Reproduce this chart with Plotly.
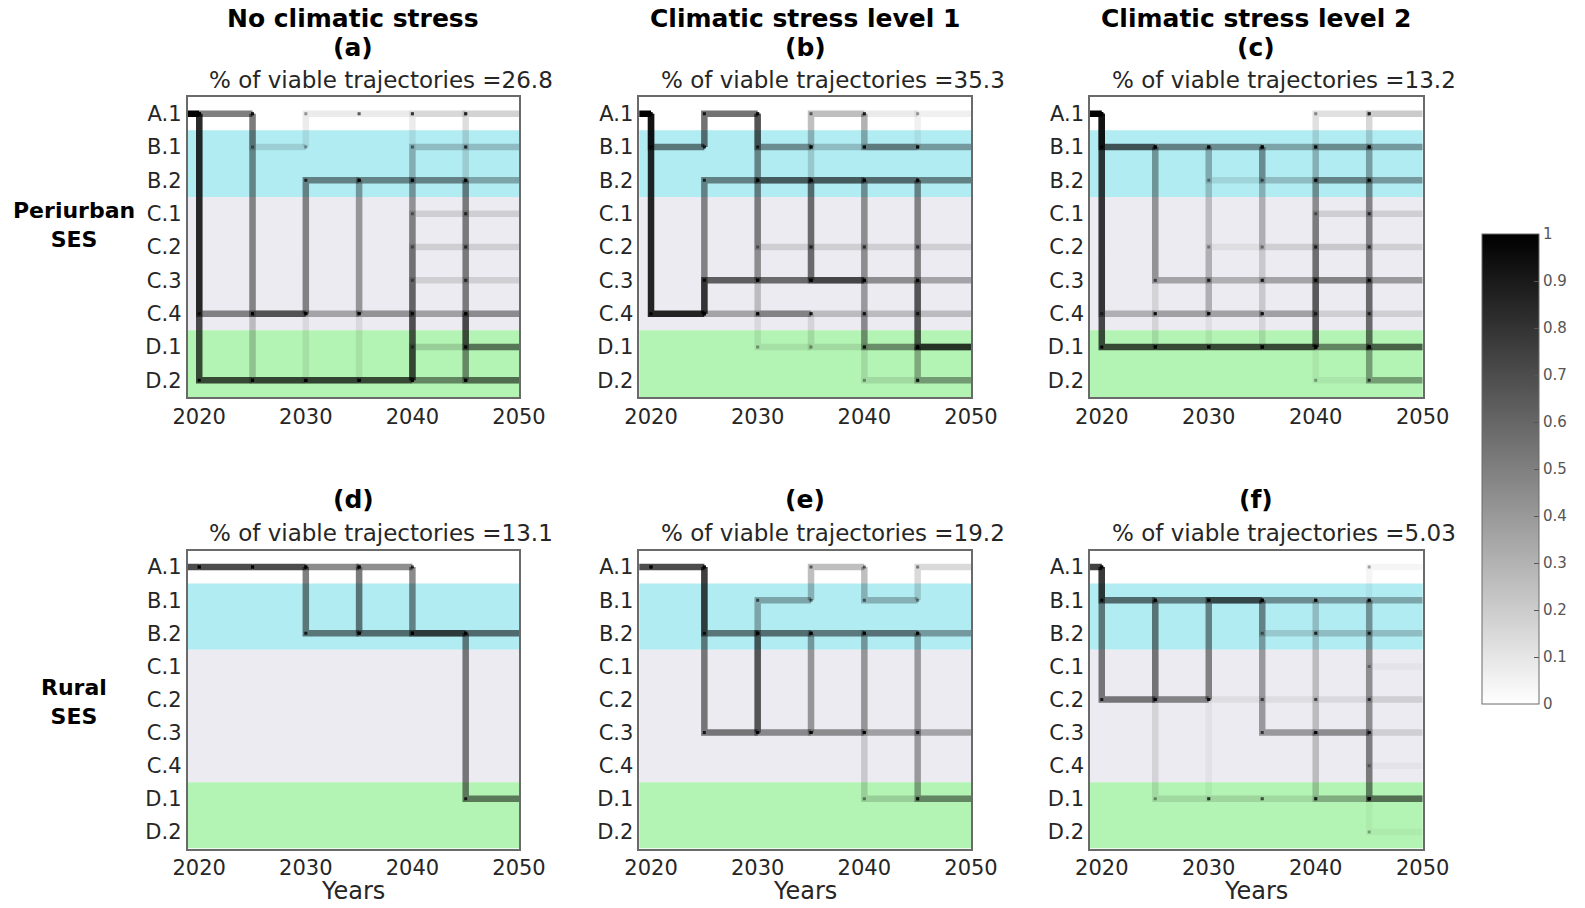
import plotly.graph_objects as go

W, H = 1585, 908

# ---- data -------------------------------------------------------------
STATES = ["A.1", "B.1", "B.2", "C.1", "C.2", "C.3", "C.4", "D.1", "D.2"]
YEAR_TICKS = [2020, 2030, 2040, 2050]
STEP = 5  # years between two decisions

COLUMN_TITLES = ["No climatic stress", "Climatic stress level 1", "Climatic stress level 2"]
ROW_TITLES = ["Periurban<br>SES", "Rural<br>SES"]
PANEL_LETTERS = ["(a)", "(b)", "(c)", "(d)", "(e)", "(f)"]
VIABLE_PCT = ["26.8", "35.3", "13.2", "13.1", "19.2", "5.03"]
CBAR_TICKS = [0, 0.1, 0.2, 0.3, 0.4, 0.5, 0.6, 0.7, 0.8, 0.9, 1]

# transitions: (decision year, state before, state after, share of trajectories)
edges_a = [
    (2015, "A.1", "A.1", 1.0),
    (2020, "A.1", "A.1", 0.5), (2020, "A.1", "C.4", 0.45), (2020, "A.1", "D.2", 0.7),
    (2025, "A.1", "B.1", 0.12), (2025, "A.1", "C.4", 0.3), (2025, "A.1", "D.2", 0.2),
    (2025, "C.4", "C.4", 0.5), (2025, "D.2", "D.2", 0.65),
    (2030, "B.1", "A.1", 0.08), (2030, "C.4", "B.2", 0.45), (2030, "C.4", "C.4", 0.3),
    (2030, "C.4", "D.2", 0.08), (2030, "D.2", "D.2", 0.7),
    (2035, "A.1", "A.1", 0.08), (2035, "B.2", "B.2", 0.3), (2035, "B.2", "C.4", 0.2),
    (2035, "C.4", "B.2", 0.2), (2035, "C.4", "C.4", 0.15), (2035, "D.2", "D.2", 0.7),
    (2035, "D.2", "C.4", 0.08),
    (2040, "A.1", "A.1", 0.08), (2040, "B.2", "B.2", 0.35), (2040, "C.4", "C.4", 0.15),
    (2040, "D.2", "A.1", 0.08), (2040, "D.2", "B.1", 0.2), (2040, "D.2", "B.2", 0.15),
    (2040, "D.2", "C.1", 0.12), (2040, "D.2", "C.2", 0.12), (2040, "D.2", "C.3", 0.12),
    (2040, "D.2", "C.4", 0.2), (2040, "D.2", "D.1", 0.15), (2040, "D.2", "D.2", 0.45),
    (2045, "A.1", "A.1", 0.04), (2045, "B.1", "B.1", 0.2), (2045, "B.2", "B.2", 0.3),
    (2045, "B.2", "A.1", 0.08), (2045, "B.2", "D.1", 0.45), (2045, "C.1", "C.1", 0.12),
    (2045, "C.2", "C.2", 0.12), (2045, "C.3", "C.3", 0.12), (2045, "C.4", "C.4", 0.25),
    (2045, "C.4", "D.2", 0.25), (2045, "D.1", "D.1", 0.12), (2045, "D.2", "D.2", 0.4),
    (2045, "D.2", "A.1", 0.06), (2045, "D.2", "C.4", 0.2),
]

edges_b = [
    (2015, "A.1", "A.1", 1.0),
    (2020, "A.1", "B.1", 0.5), (2020, "A.1", "C.4", 0.85),
    (2025, "B.1", "A.1", 0.55), (2025, "C.4", "B.2", 0.45), (2025, "C.4", "C.3", 0.6),
    (2025, "C.4", "C.4", 0.3),
    (2030, "A.1", "B.1", 0.4), (2030, "A.1", "B.2", 0.3), (2030, "A.1", "C.4", 0.2),
    (2030, "B.2", "B.2", 0.25), (2030, "B.2", "C.2", 0.12), (2030, "C.3", "B.2", 0.25),
    (2030, "C.3", "C.3", 0.55), (2030, "C.4", "C.4", 0.3), (2030, "C.4", "D.1", 0.08),
    (2035, "B.1", "A.1", 0.25), (2035, "B.1", "B.1", 0.2), (2035, "B.1", "B.2", 0.15),
    (2035, "B.2", "B.2", 0.35), (2035, "B.2", "C.3", 0.35), (2035, "C.2", "C.2", 0.12),
    (2035, "C.3", "B.2", 0.3), (2035, "C.3", "C.3", 0.55), (2035, "C.4", "C.4", 0.2),
    (2035, "C.4", "D.1", 0.1),
    (2040, "A.1", "B.1", 0.3), (2040, "A.1", "A.1", 0.08), (2040, "B.1", "B.1", 0.25),
    (2040, "B.2", "B.2", 0.4), (2040, "B.2", "C.3", 0.2), (2040, "C.2", "C.2", 0.12),
    (2040, "C.3", "B.2", 0.25), (2040, "C.3", "C.3", 0.25), (2040, "C.3", "D.1", 0.35),
    (2040, "C.4", "C.4", 0.2), (2040, "C.4", "D.2", 0.1), (2040, "D.1", "D.1", 0.1),
    (2045, "B.1", "A.1", 0.06), (2045, "B.1", "B.1", 0.35), (2045, "B.2", "B.2", 0.45),
    (2045, "B.2", "D.1", 0.45), (2045, "C.2", "C.2", 0.12), (2045, "C.3", "C.3", 0.3),
    (2045, "C.3", "D.1", 0.35), (2045, "C.4", "C.4", 0.2), (2045, "D.1", "D.1", 0.4),
    (2045, "D.1", "D.2", 0.3), (2045, "D.2", "D.2", 0.08),
]

edges_c = [
    (2015, "A.1", "A.1", 1.0),
    (2020, "A.1", "B.1", 0.65), (2020, "A.1", "C.4", 0.25), (2020, "A.1", "D.1", 0.7),
    (2025, "B.1", "B.1", 0.45), (2025, "B.1", "C.3", 0.3), (2025, "B.1", "C.4", 0.1),
    (2025, "C.4", "C.4", 0.15), (2025, "D.1", "C.4", 0.1), (2025, "D.1", "D.1", 0.7),
    (2030, "B.1", "B.1", 0.4), (2030, "B.1", "B.2", 0.1), (2030, "B.1", "C.4", 0.2),
    (2030, "C.3", "C.3", 0.25), (2030, "C.4", "C.2", 0.06), (2030, "C.4", "C.4", 0.08),
    (2030, "D.1", "C.4", 0.06), (2030, "D.1", "D.1", 0.7),
    (2035, "B.1", "B.1", 0.3), (2035, "B.1", "B.2", 0.2), (2035, "B.1", "C.2", 0.12),
    (2035, "B.1", "C.4", 0.15), (2035, "C.3", "C.3", 0.3), (2035, "C.4", "C.4", 0.1),
    (2035, "D.1", "C.4", 0.1), (2035, "D.1", "D.1", 0.7),
    (2040, "B.1", "B.1", 0.3), (2040, "B.2", "B.2", 0.3), (2040, "C.2", "C.2", 0.05),
    (2040, "C.3", "C.3", 0.3), (2040, "C.4", "C.4", 0.12), (2040, "D.1", "A.1", 0.12),
    (2040, "D.1", "B.1", 0.15), (2040, "D.1", "B.2", 0.2), (2040, "D.1", "C.1", 0.12),
    (2040, "D.1", "C.2", 0.1), (2040, "D.1", "C.3", 0.2), (2040, "D.1", "D.1", 0.45),
    (2040, "D.1", "D.2", 0.05),
    (2045, "A.1", "A.1", 0.05), (2045, "B.1", "A.1", 0.06), (2045, "B.1", "B.1", 0.35),
    (2045, "B.1", "D.1", 0.25), (2045, "B.2", "B.2", 0.35), (2045, "B.2", "D.1", 0.15),
    (2045, "C.1", "C.1", 0.12), (2045, "C.2", "C.2", 0.12), (2045, "C.3", "C.3", 0.35),
    (2045, "C.3", "D.1", 0.2), (2045, "C.4", "C.4", 0.12), (2045, "D.1", "A.1", 0.1),
    (2045, "D.1", "D.1", 0.2), (2045, "D.1", "D.2", 0.35),
]

edges_d = [
    (2015, "A.1", "A.1", 0.7),
    (2020, "A.1", "A.1", 0.7),
    (2025, "A.1", "A.1", 0.7),
    (2030, "A.1", "A.1", 0.45), (2030, "A.1", "B.2", 0.5),
    (2035, "A.1", "A.1", 0.2), (2035, "A.1", "B.2", 0.3), (2035, "B.2", "A.1", 0.3),
    (2035, "B.2", "B.2", 0.35),
    (2040, "A.1", "B.2", 0.45), (2040, "B.2", "B.2", 0.55),
    (2045, "B.2", "B.2", 0.55), (2045, "B.2", "D.1", 0.5),
]

edges_e = [
    (2015, "A.1", "A.1", 0.7),
    (2020, "A.1", "A.1", 0.7),
    (2025, "A.1", "B.2", 0.5), (2025, "A.1", "C.3", 0.5),
    (2030, "B.2", "B.1", 0.3), (2030, "B.2", "B.2", 0.15), (2030, "B.2", "C.3", 0.35),
    (2030, "C.3", "B.2", 0.45), (2030, "C.3", "C.3", 0.1),
    (2035, "B.1", "A.1", 0.25), (2035, "B.2", "B.2", 0.35), (2035, "B.2", "C.3", 0.2),
    (2035, "C.3", "B.2", 0.2), (2035, "C.3", "C.3", 0.25),
    (2040, "A.1", "B.1", 0.25), (2040, "B.2", "B.2", 0.35), (2040, "B.2", "C.3", 0.15),
    (2040, "C.3", "B.2", 0.25), (2040, "C.3", "C.3", 0.2), (2040, "C.3", "D.1", 0.15),
    (2045, "B.1", "A.1", 0.15), (2045, "B.2", "B.2", 0.35), (2045, "B.2", "D.1", 0.35),
    (2045, "C.3", "C.3", 0.3), (2045, "D.1", "D.1", 0.15),
]

edges_f = [
    (2015, "A.1", "A.1", 0.75),
    (2020, "A.1", "B.1", 0.55), (2020, "A.1", "C.2", 0.5),
    (2025, "B.1", "B.1", 0.25), (2025, "B.1", "C.2", 0.3), (2025, "C.2", "B.1", 0.3),
    (2025, "C.2", "C.2", 0.2), (2025, "C.2", "D.1", 0.1),
    (2030, "B.1", "B.1", 0.45), (2030, "C.2", "B.1", 0.45), (2030, "C.2", "C.2", 0.06),
    (2030, "C.2", "D.1", 0.04), (2030, "D.1", "D.1", 0.08),
    (2035, "B.1", "B.1", 0.4), (2035, "B.1", "B.2", 0.15), (2035, "B.1", "C.3", 0.35),
    (2035, "C.2", "C.2", 0.06), (2035, "D.1", "D.1", 0.1),
    (2040, "B.1", "B.1", 0.35), (2040, "B.1", "C.3", 0.2), (2040, "B.2", "B.2", 0.2),
    (2040, "C.2", "C.2", 0.08), (2040, "C.3", "C.3", 0.25), (2040, "C.3", "D.1", 0.2),
    (2040, "D.1", "D.1", 0.1),
    (2045, "B.1", "B.1", 0.3), (2045, "B.1", "D.1", 0.35), (2045, "B.2", "B.2", 0.2),
    (2045, "C.2", "C.2", 0.12), (2045, "C.3", "C.3", 0.12), (2045, "C.3", "D.1", 0.1),
    (2045, "D.1", "D.1", 0.2), (2045, "D.1", "A.1", 0.04), (2045, "D.1", "C.1", 0.03),
    (2045, "D.1", "C.4", 0.03), (2045, "D.1", "D.2", 0.03),
]

PANELS = [edges_a, edges_b, edges_c, edges_d, edges_e, edges_f]

# ---- layout geometry (pixels) -----------------------------------------
COL_PX = [(187.5, 519.0), (639.3, 971.0), (1090.0, 1422.7)]
ROW_PX = [(97.0, 397.0), (550.5, 848.5)]
X_RANGE = [2018.9, 2050]
Y_RANGE = [8.5, -0.5]

# background bands: (from, to, colour) in state-index units
BANDS = [(0.5, 2.5, "rgb(178,236,243)"), (2.5, 6.5, "rgb(235,235,241)"),
         (6.5, 8.5, "rgb(179,243,179)")]

FONT = "DejaVu Sans"
TEXT = "#262626"


def px_x(px):
    return px / W


def px_y(py):
    return 1 - py / H


def label(text, cx, cy, size, color="black", yanchor="middle"):
    return dict(text=text, x=px_x(cx), y=px_y(cy), xref="paper", yref="paper",
                xanchor="center", yanchor=yanchor, showarrow=False,
                font=dict(size=size, color=color, family=FONT))


fig = go.Figure()
layout = dict(
    width=W, height=H, margin=dict(l=0, r=0, t=0, b=0, autoexpand=False),
    paper_bgcolor="white", plot_bgcolor="white", showlegend=False,
    font=dict(family=FONT, color=TEXT),
)
shapes, annotations = [], []

for k, edges in enumerate(PANELS):
    r, c = divmod(k, 3)
    n = k + 1
    xa = "x" if n == 1 else f"x{n}"
    ya = "y" if n == 1 else f"y{n}"
    x0, x1 = COL_PX[c]
    y0, y1 = ROW_PX[r]
    layout["xaxis" + ("" if n == 1 else str(n))] = dict(
        domain=[px_x(x0), px_x(x1)], anchor=ya, range=X_RANGE,
        tickvals=YEAR_TICKS, ticks="", showgrid=False, zeroline=False,
        showline=True, mirror=True, linecolor="#6a6a6a", linewidth=1.5,
        tickfont=dict(size=21, color=TEXT), ticklabelstandoff=0,
        automargin=False,
    )
    layout["yaxis" + ("" if n == 1 else str(n))] = dict(
        domain=[px_y(y1), px_y(y0)], anchor=xa, range=Y_RANGE,
        tickvals=list(range(len(STATES))), ticktext=STATES, ticks="",
        showgrid=False, zeroline=False, showline=True, mirror=True,
        linecolor="#6a6a6a", linewidth=1.5, tickfont=dict(size=21, color=TEXT),
        ticklabelstandoff=0, automargin=False,
    )
    for b0, b1, col in BANDS:
        shapes.append(dict(type="rect", xref=f"{xa} domain", yref=ya, x0=0, x1=1,
                           y0=b0, y1=b1, fillcolor=col, line=dict(width=0), layer="below"))

    # trajectories: vertical jump at the decision year, then hold the new state
    mx, my, mc = [], [], []
    for year, s_from, s_to, share in edges:
        i_from, i_to = STATES.index(s_from), STATES.index(s_to)
        fig.add_trace(go.Scatter(
            x=[year, year + STEP], y=[i_from, i_to], mode="lines",
            line=dict(shape="vh", width=6.5, color=f"rgba(0,0,0,{share})"),
            xaxis=xa, yaxis=ya, hoverinfo="skip", showlegend=False,
        ))
        if year >= YEAR_TICKS[0]:
            a = min(1.0, share + 0.3)
            mx += [year, year]
            my += [i_from, i_to]
            mc += [f"rgba(0,0,0,{a})"] * 2
    fig.add_trace(go.Scatter(
        x=mx, y=my, mode="markers", xaxis=xa, yaxis=ya, hoverinfo="skip",
        marker=dict(symbol="square", size=3, color=mc, line=dict(width=0)),
        showlegend=False,
    ))

    # panel headings
    cx = (x0 + x1) / 2
    if r == 0:
        annotations.append(label(f"<b>{COLUMN_TITLES[c]}</b>", cx, 18, 25))
    letter_y = 47.5 if r == 0 else 500
    annotations.append(label(f"<b>{PANEL_LETTERS[k]}</b>", cx, letter_y, 25))
    annotations.append(label(f"% of viable trajectories ={VIABLE_PCT[k]}",
                             cx + 28, letter_y + 32.5, 23, TEXT))
    if r == 1:
        annotations.append(label("Years", cx, 907, 24, TEXT, yanchor="bottom"))

# row headings
for ry, txt in zip([225, 702], ROW_TITLES):
    annotations.append(label(f"<b>{txt}</b>", 74, ry, 22))

# shared grey scale for the trajectory shares
fig.add_trace(go.Scatter(
    x=[2030], y=[4], mode="markers", xaxis="x", yaxis="y", hoverinfo="skip",
    marker=dict(size=0.1, opacity=0, color=[0.5], cmin=0, cmax=1,
                colorscale=[[0, "rgb(255,255,255)"], [1, "rgb(0,0,0)"]],
                showscale=True,
                colorbar=dict(
                    x=px_x(1482), xanchor="left", xpad=0,
                    y=px_y(469), yanchor="middle", ypad=0,
                    thickness=57, thicknessmode="pixels",
                    len=470, lenmode="pixels",
                    outlinecolor="#6a6a6a", outlinewidth=1,
                    tickvals=CBAR_TICKS, ticktext=[f"{v:g}" for v in CBAR_TICKS],
                    ticks="inside", ticklen=5, tickcolor="#555",
                    tickfont=dict(size=15, color="#555", family=FONT),
                )),
    showlegend=False,
))

layout["shapes"] = shapes
layout["annotations"] = annotations
fig.update_layout(**layout)
fig.write_html("out.html")
